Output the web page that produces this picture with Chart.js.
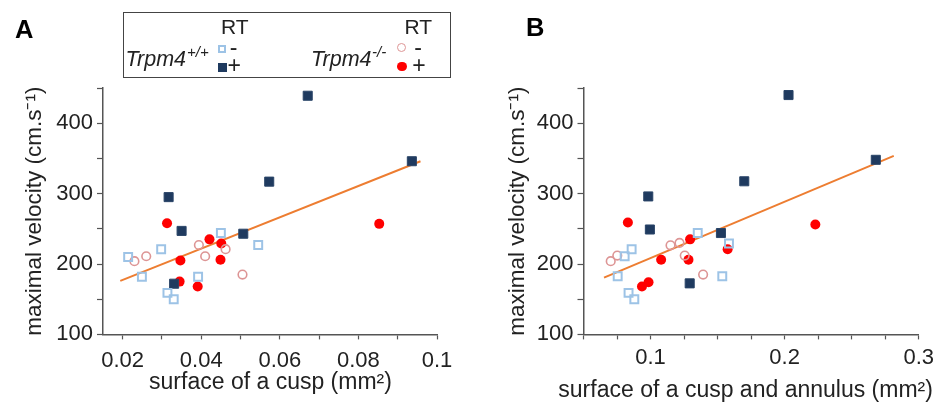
<!DOCTYPE html>
<html>
<head>
<meta charset="UTF-8">
<title>Maximal velocity vs cusp surface</title>
<script src="https://cdn.jsdelivr.net/npm/chart.js@4.4.1/dist/chart.umd.min.js"></script>
<style>
  body { margin: 0; background: #fff; }
  #wrap { position: relative; width: 939px; height: 403px; font-family: 'Liberation Sans', Arial, sans-serif; color: #222; }
  .panel { position: absolute; top: 0; height: 403px; }
  .t { position: absolute; line-height: 1; white-space: nowrap; }
  .mk { position: absolute; box-sizing: border-box; }
</style>
</head>
<body>
<div id="wrap">
  <div class="panel" style="left:0;width:470px"><canvas id="chartA" width="470" height="403"></canvas></div>
  <div class="panel" style="left:470px;width:469px"><canvas id="chartB" width="469" height="403"></canvas></div>

  <!-- panel letters -->
  <div class="t" style="left:15px;top:16.7px;font-size:25.5px;font-weight:bold;color:#000">A</div>
  <div class="t" style="left:526px;top:15px;font-size:25.5px;font-weight:bold;color:#000">B</div>

  <!-- legend box -->
  <div class="mk" style="left:123px;top:12px;width:328px;height:66px;border:1.5px solid #444"></div>
  <div class="t" style="left:221px;top:15.5px;font-size:21px">RT</div>
  <div class="t" style="left:404.5px;top:15.5px;font-size:21px">RT</div>
  <div class="t" style="left:125.5px;top:48.5px;font-size:21.5px;font-style:italic">Trpm4</div>
  <div class="t" style="left:187px;top:44px;font-size:15px;font-style:italic">+/+</div>
  <div class="t" style="left:311px;top:48.5px;font-size:21.5px;font-style:italic">Trpm4</div>
  <div class="t" style="left:372px;top:44px;font-size:15px;font-style:italic">-/-</div>
  <div class="mk" style="left:218px;top:45px;width:8px;height:8px;border:2px solid #9dc3e6"></div>
  <div class="mk" style="left:218px;top:62.5px;width:9px;height:9px;background:#1f3a5f"></div>
  <div class="mk" style="left:397.2px;top:43.2px;width:9px;height:9px;border:1.5px solid #dd9595;border-radius:50%"></div>
  <div class="mk" style="left:397.2px;top:61.5px;width:9.5px;height:9.5px;background:#ff0000;border-radius:50%"></div>
  <div class="t" style="left:229.7px;top:36px;font-size:23px">-</div>
  <div class="t" style="left:227.6px;top:54px;font-size:23px">+</div>
  <div class="t" style="left:414.2px;top:36px;font-size:23px">-</div>
  <div class="t" style="left:412.3px;top:54px;font-size:23px">+</div>
</div>

<script>
// ---- data ----
// velocities in cm/s, surfaces in mm2

// Panel A: surface of a cusp
var wtRestX_A = [0.0214, 0.0249, 0.0298, 0.0314, 0.0330, 0.0392, 0.0450, 0.0545];
var wtRestY_A = [210, 182, 221, 159, 150, 182, 244, 227];
var wtRtX_A = [0.0317, 0.0350, 0.0331, 0.0507, 0.0573, 0.0671, 0.0936];
var wtRtY_A = [295, 247, 172, 243, 317, 439, 346];
var koRestX_A = [0.0230, 0.0260, 0.0394, 0.0410, 0.0462, 0.0505];
var koRestY_A = [204, 211, 227, 211, 221, 185];
var koRtX_A = [0.0313, 0.0421, 0.0451, 0.0347, 0.0449, 0.0345, 0.0391, 0.0853];
var koRtY_A = [258, 235, 229, 205, 206, 175, 168, 257];
var fitX_A = [0.0194, 0.0958];
var fitY_A = [176, 346];

// Panel B: surface of a cusp and annulus
var wtRestX_B = [0.0755, 0.0807, 0.0859, 0.0836, 0.0879, 0.1352, 0.1535, 0.1585];
var wtRestY_B = [182.5, 211, 221, 159, 150, 244, 182.5, 229];
var wtRtX_B = [0.0983, 0.0995, 0.1292, 0.1525, 0.1699, 0.2029, 0.2680];
var wtRtY_B = [296, 249, 172.5, 244, 317.5, 440, 348];
var koRestX_B = [0.0703, 0.0752, 0.1149, 0.1216, 0.1255, 0.1392];
var koRestY_B = [204, 212, 226.5, 230, 212, 185];
var koRtX_B = [0.0831, 0.0936, 0.0985, 0.1079, 0.1283, 0.1295, 0.1575, 0.2229];
var koRtY_B = [259, 168, 174, 206, 206, 235, 221, 256];
var fitX_B = [0.0653, 0.2814];
var fitY_B = [180.6, 353.6];

var yTitle = 'maximal velocity (cm.s\u207B\u00B9)';

Chart.defaults.font.family = "'Liberation Sans', Arial, sans-serif";
Chart.defaults.color = '#222';

function pts(xs, ys) {
    var out = [];
    for (var i = 0; i < xs.length; i++) out.push({x: xs[i], y: ys[i]});
    return out;
}

function isMultiple(v, step) {
    var r = v / step;
    return Math.abs(r - Math.round(r)) < 1e-6;
}

// the built-in x title gets squeezed to the plot width, so draw it here instead
var xTitlePlugin = {
    id: 'xTitle',
    afterDraw: function(chart, args, opts) {
        var ctx = chart.ctx, a = chart.chartArea;
        ctx.save();
        ctx.font = '23px ' + Chart.defaults.font.family;
        ctx.fillStyle = '#222';
        ctx.textAlign = 'center';
        ctx.textBaseline = 'alphabetic';
        ctx.fillText(opts.text, (a.left + a.right) / 2 + opts.shift, opts.baseline);
        ctx.restore();
    }
};

function buildPanel(id, p) {
    var ctx = document.getElementById(id).getContext('2d');
    return new Chart(ctx, {
        type: 'scatter',
        data: {
            datasets: [{
                data: pts(p.wtRestX, p.wtRestY),
                pointStyle: 'rect', pointRadius: 5.6,
                backgroundColor: 'rgba(255,255,255,0)', borderColor: '#9dc3e6', borderWidth: 2
            }, {
                data: pts(p.wtRtX, p.wtRtY),
                pointStyle: 'rect', pointRadius: 6.4,
                backgroundColor: '#1f3a5f', borderColor: '#2a4568', borderWidth: 1
            }, {
                data: pts(p.koRestX, p.koRestY),
                pointStyle: 'circle', pointRadius: 4.3,
                backgroundColor: 'rgba(255,255,255,0)', borderColor: '#dd9595', borderWidth: 1.6
            }, {
                data: pts(p.koRtX, p.koRtY),
                pointStyle: 'circle', pointRadius: 5,
                backgroundColor: '#ff0000', borderColor: '#ff0000', borderWidth: 0
            }, {
                type: 'line',
                data: pts(p.fitX, p.fitY),
                borderColor: '#ed7d31', borderWidth: 2, pointRadius: 0, fill: false
            }]
        },
        plugins: [xTitlePlugin],
        options: {
            responsive: false,
            animation: false,
            layout: { padding: { top: 88, right: p.padRight, left: 0, bottom: 0 } },
            plugins: {
                legend: { display: false },
                tooltip: { enabled: false },
                xTitle: { text: p.xTitle, shift: p.xTitleShift, baseline: p.xTitleBaseline }
            },
            scales: {
                x: {
                    type: 'linear',
                    min: p.xMin, max: p.xMax,
                    afterFit: function(s) { s.height = 68.6; },
                    border: { color: '#555', width: 1.5 },
                    grid: { drawOnChartArea: false, drawTicks: true, tickLength: 5, tickColor: '#555', tickWidth: 1.2 },
                    ticks: {
                        stepSize: p.xStep, includeBounds: false, autoSkip: false, maxRotation: 0,
                        padding: p.xTickPad,
                        font: { size: 22 }, color: '#222',
                        callback: function(v) { return isMultiple(v, p.xLabelStep) ? String(parseFloat(v.toFixed(3))) : ''; }
                    }
                },
                y: {
                    type: 'linear',
                    min: 100, max: 450,
                    afterFit: function(s) { s.width = p.yWidth; },
                    border: { color: '#555', width: 1.5 },
                    grid: { drawOnChartArea: false, drawTicks: true, tickLength: 6, tickColor: '#555', tickWidth: 1.2 },
                    ticks: {
                        stepSize: 50, autoSkip: false, padding: 4,
                        font: { size: 22 }, color: '#222',
                        callback: function(v) { return v % 100 === 0 ? String(v) : ''; }
                    },
                    title: {
                        display: true, text: yTitle, color: '#222',
                        font: { size: 22.5 }, padding: { top: p.yTitlePad, bottom: 0 }
                    }
                }
            }
        }
    });
}

buildPanel('chartA', {
    wtRestX: wtRestX_A, wtRestY: wtRestY_A, wtRtX: wtRtX_A, wtRtY: wtRtY_A,
    koRestX: koRestX_A, koRestY: koRestY_A, koRtX: koRtX_A, koRtY: koRtY_A,
    fitX: fitX_A, fitY: fitY_A,
    xMin: 0.015, xMax: 0.1, xStep: 0.01, xLabelStep: 0.02,
    xTitle: 'surface of a cusp (mm\u00B2)', xTitleShift: 0.5, xTitleBaseline: 388.5,
    yWidth: 103, padRight: 33, xTickPad: 8, yTitlePad: 21
});

buildPanel('chartB', {
    wtRestX: wtRestX_B, wtRestY: wtRestY_B, wtRtX: wtRtX_B, wtRtY: wtRtY_B,
    koRestX: koRestX_B, koRestY: koRestY_B, koRtX: koRtX_B, koRtY: koRtY_B,
    fitX: fitX_B, fitY: fitY_B,
    xMin: 0.05, xMax: 0.3, xStep: 0.025, xLabelStep: 0.1,
    xTitle: 'surface of a cusp and annulus (mm\u00B2)', xTitleShift: -5.5, xTitleBaseline: 396.5,
    yWidth: 113.5, padRight: 19.5, xTickPad: 5, yTitlePad: 34
});
</script>
</body>
</html>
